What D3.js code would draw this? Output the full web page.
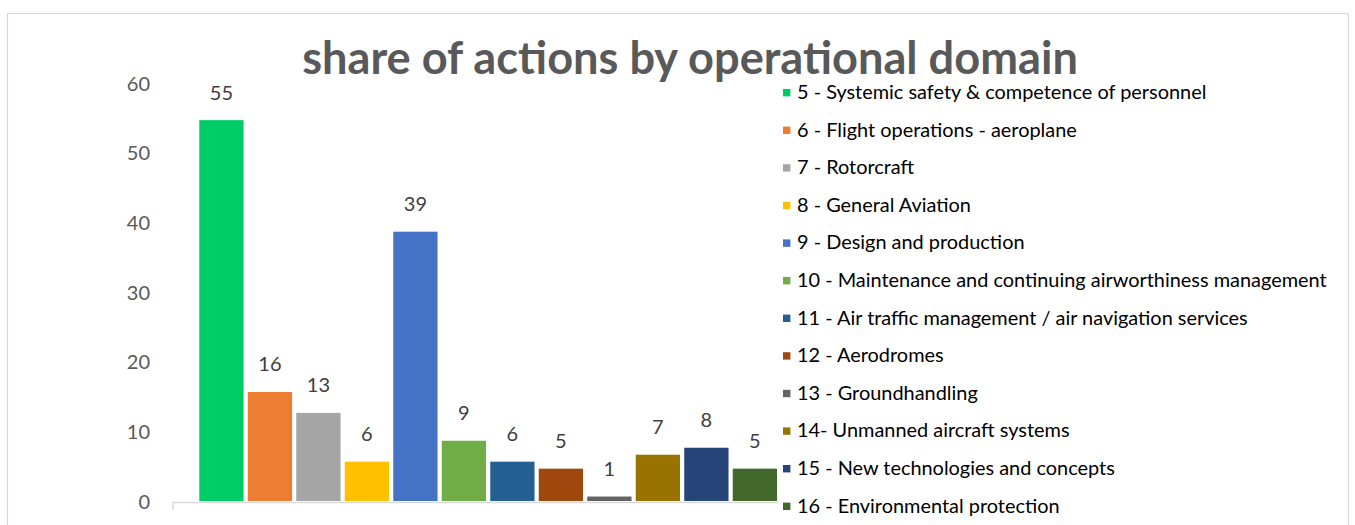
<!DOCTYPE html>
<html>
<head>
<meta charset="utf-8">
<script src="https://cdn.jsdelivr.net/npm/d3@7"></script>
<style>
  html, body { margin: 0; padding: 0; background: #ffffff; }
  svg { display: block; }
  text { font-family: Lato, "Open Sans", sans-serif; }
</style>
</head>
<body>
<svg id="chart" width="1355" height="525"></svg>
<script>
// Operational domains and the number of actions in each
const domains = [
  "5 - Systemic safety & competence of personnel",
  "6 - Flight operations - aeroplane",
  "7 - Rotorcraft",
  "8 - General Aviation",
  "9 - Design and production",
  "10 - Maintenance and continuing airworthiness management",
  "11 - Air traffic management / air navigation services",
  "12 - Aerodromes",
  "13 - Groundhandling",
  "14- Unmanned aircraft systems",
  "15 - New technologies and concepts",
  "16 - Environmental protection"
];
const actions = [55, 16, 13, 6, 39, 9, 6, 5, 1, 7, 8, 5];
const domainColors = [
  "#00cc66", "#ed7d31", "#a5a5a5", "#ffc000", "#4472c4", "#70ad47",
  "#255e91", "#9e480e", "#636363", "#997300", "#264478", "#43682b"
];
const yTicks = [0, 10, 20, 30, 40, 50, 60];
const chartTitle = "share of actions by operational domain";

const svg = d3.select("#chart");

// outer chart frame
svg.append("rect")
  .attr("x", 7.5).attr("y", 13.5)
  .attr("width", 1341).attr("height", 600)
  .attr("fill", "#ffffff").attr("stroke", "#d9d9d9").attr("stroke-width", 1.2);

const x = d3.scaleBand()
  .domain(domains)
  .range([173, 803.3])
  .paddingInner(0.087)
  .paddingOuter(0.542);

const y = d3.scaleLinear()
  .domain([0, 60])
  .range([503, 84.8]);

// value axis labels
const yAxis = svg.append("g")
  .attr("transform", "translate(150,0)")
  .call(d3.axisLeft(y).tickValues(yTicks).tickSize(0).tickPadding(0));
yAxis.select(".domain").remove();
yAxis.selectAll("text")
  .attr("dy", 5.3)
  .attr("fill", "#595959")
  .style("font-size", "20px")
  .style("font-family", "Lato, 'Open Sans', sans-serif");

// bars
svg.append("g").selectAll("rect")
  .data(domains)
  .join("rect")
  .attr("x", d => x(d))
  .attr("width", x.bandwidth())
  .attr("y", (d, i) => y(actions[i]) + 0.5)
  .attr("height", (d, i) => Math.max(0, y(0) - y(actions[i]) - 2.5))
  .attr("fill", (d, i) => domainColors[i]);

// category axis line with its outer tick
const x0 = x.range()[0];
const xEnd = x(domains[domains.length - 1]) + x.bandwidth() + 1.5;
svg.append("path")
  .attr("d", `M${x0},510V502.5H${xEnd}`)
  .attr("fill", "none")
  .attr("stroke", "#d9d9d9")
  .attr("stroke-width", 1.5);

// data labels
svg.append("g").selectAll("text")
  .data(domains)
  .join("text")
  .attr("x", d => x(d) + x.bandwidth() / 2)
  .attr("y", (d, i) => y(actions[i]) - 20)
  .attr("text-anchor", "middle")
  .attr("fill", "#404040")
  .style("font-size", "20px")
  .text((d, i) => actions[i]);

// title, sized to span its box
const title = svg.append("text")
  .attr("x", 690)
  .attr("y", 73.5)
  .attr("text-anchor", "middle")
  .attr("fill", "#595959")
  .style("font-weight", "bold")
  .style("font-size", "40px")
  .text(chartTitle);
const tw = title.node().getComputedTextLength();
title.style("font-size", (40 * 776 / tw) + "px");

// legend
const legend = svg.append("g");
const rowStep = 37.6;
const rows = legend.selectAll("g")
  .data(domains)
  .join("g")
  .attr("transform", (d, i) => `translate(783,${92.7 + i * rowStep})`);
rows.append("rect")
  .attr("x", 0).attr("y", -3.7)
  .attr("width", 7.4).attr("height", 7.4)
  .attr("fill", (d, i) => domainColors[i]);
const legendText = rows.append("text")
  .attr("x", 14)
  .attr("y", 6.3)
  .attr("fill", "#000000")
  .style("font-size", "18px")
  .text(d => d);
let longest = 0;
legendText.each(function () { longest = Math.max(longest, this.getComputedTextLength()); });
legendText.style("font-size", (18 * 530 / longest) + "px");
</script>
</body>
</html>
